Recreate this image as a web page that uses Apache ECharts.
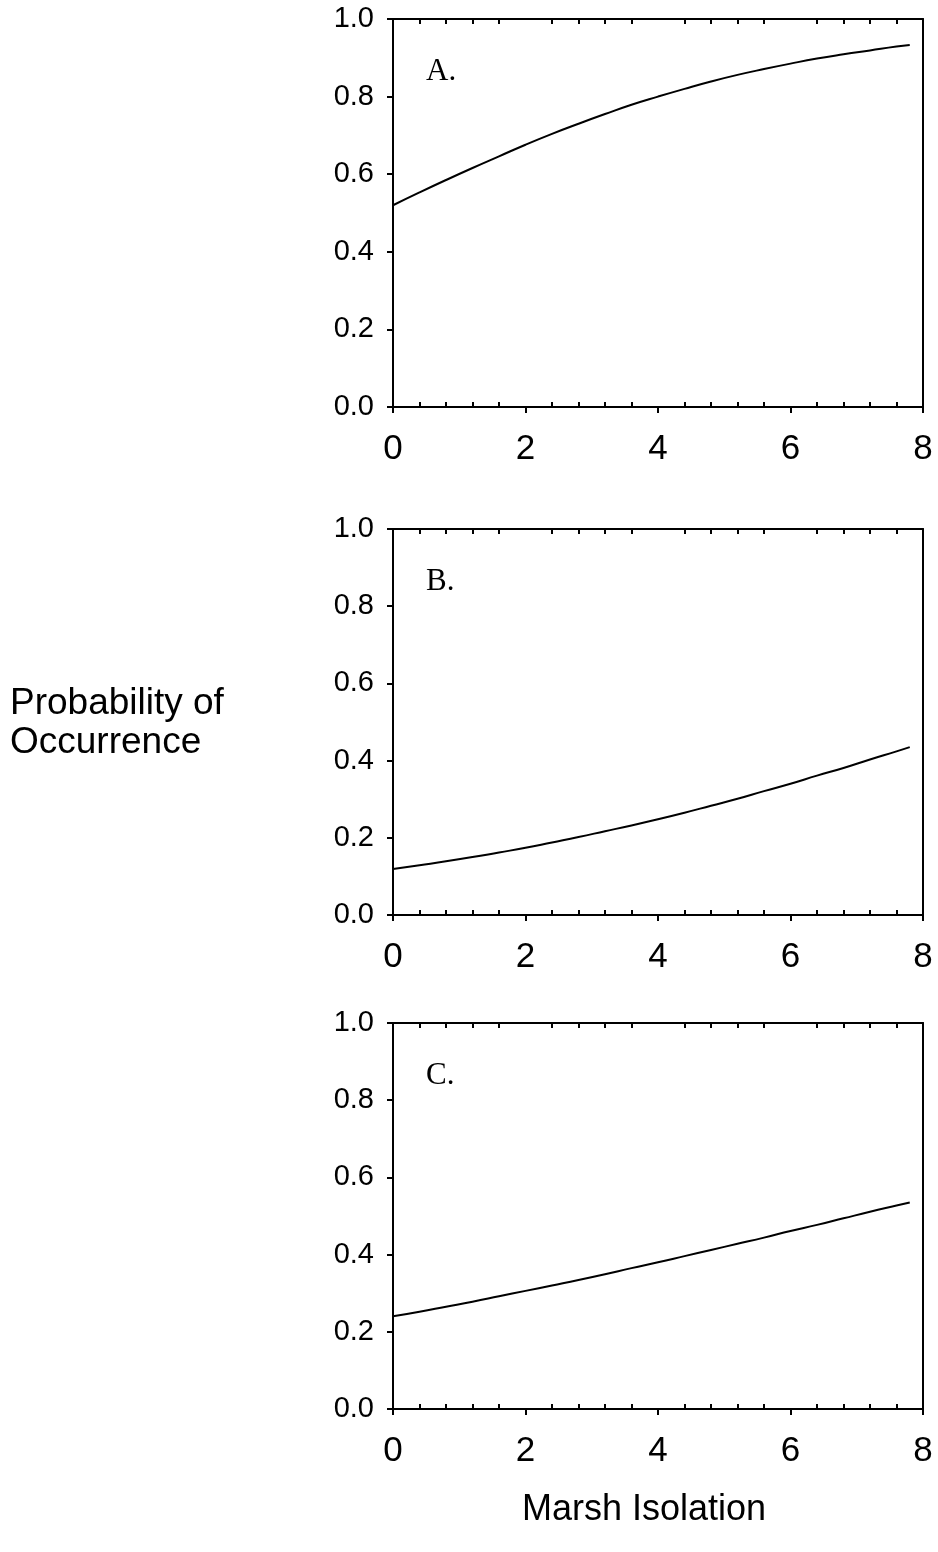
<!DOCTYPE html>
<html>
<head>
<meta charset="utf-8">
<script src="https://cdn.jsdelivr.net/npm/echarts@6/dist/echarts.min.js"></script>
<style>
html,body{margin:0;padding:0;background:#fff;}
#chart{width:938px;height:1552px;}
</style>
</head>
<body>
<div id="chart"></div>
<script>
// ---- data ----
var isolation = [0, 0.4, 0.8, 1.2, 1.6, 2.0, 2.4, 2.8, 3.2, 3.6, 4.0, 4.4, 4.8, 5.2, 5.6, 6.0, 6.4, 6.8, 7.2, 7.6, 7.8];
var probA = [0.520, 0.553, 0.585, 0.616, 0.646, 0.676, 0.704, 0.730, 0.755, 0.779, 0.800, 0.820, 0.839, 0.856, 0.871, 0.885, 0.898, 0.909, 0.919, 0.929, 0.933];
var probB = [0.119, 0.129, 0.139, 0.150, 0.162, 0.174, 0.188, 0.202, 0.217, 0.232, 0.248, 0.265, 0.283, 0.301, 0.321, 0.340, 0.361, 0.381, 0.403, 0.424, 0.435];
var probC = [0.240, 0.252, 0.265, 0.278, 0.292, 0.306, 0.320, 0.334, 0.349, 0.365, 0.380, 0.396, 0.412, 0.428, 0.444, 0.461, 0.477, 0.494, 0.511, 0.527, 0.535];
var panelLabels = ['A.', 'B.', 'C.'];
var minorTickValues = [0.4, 0.8, 1.2, 1.6, 2.4, 2.8, 3.2, 3.6, 4.4, 4.8, 5.2, 5.6, 6.4, 6.8, 7.2, 7.6];
var xTitle = 'Marsh Isolation';
var yTitle = 'Probability of\nOccurrence';

// ---- layout ----
var panels = [
  {top: 19, height: 388, data: probA},
  {top: 529, height: 386, data: probB},
  {top: 1023, height: 386, data: probC}
];
var gridLeft = 393, gridWidth = 530;
var sans = 'Liberation Sans, Arial, sans-serif';
var serif = 'Liberation Serif, Times New Roman, serif';

var grids = [], xAxes = [], yAxes = [], series = [], titles = [];
panels.forEach(function (p, i) {
  grids.push({left: gridLeft, width: gridWidth, top: p.top, height: p.height, containLabel: false});
  // main bottom axis: line, outward major ticks, labels
  xAxes.push({
    type: 'value', gridIndex: i, position: 'bottom', min: 0, max: 8, interval: 2,
    axisLine: {show: true, onZero: false, lineStyle: {color: '#000', width: 2}},
    axisTick: {show: true, inside: false, length: 6, lineStyle: {color: '#000', width: 2}},
    axisLabel: {show: true, color: '#000', fontFamily: sans, fontSize: 35, margin: 25},
    splitLine: {show: false}
  });
  // minor ticks inside on bottom
  xAxes.push({
    type: 'value', gridIndex: i, position: 'bottom', min: 0, max: 8,
    axisLine: {show: false, onZero: false},
    axisTick: {show: true, inside: true, length: 5, customValues: minorTickValues, lineStyle: {color: '#000', width: 2}},
    axisLabel: {show: false},
    splitLine: {show: false}
  });
  // top border with inside minor ticks
  xAxes.push({
    type: 'value', gridIndex: i, position: 'top', min: 0, max: 8,
    axisLine: {show: true, onZero: false, lineStyle: {color: '#000', width: 2}},
    axisTick: {show: true, inside: true, length: 5, customValues: minorTickValues, lineStyle: {color: '#000', width: 2}},
    axisLabel: {show: false},
    splitLine: {show: false}
  });
  yAxes.push({
    type: 'value', gridIndex: i, position: 'left', min: 0, max: 1, interval: 0.2,
    axisLine: {show: true, onZero: false, lineStyle: {color: '#000', width: 2}},
    axisTick: {show: true, inside: false, length: 6, lineStyle: {color: '#000', width: 2}},
    axisLabel: {show: true, color: '#000', fontFamily: sans, fontSize: 29, margin: 19,
      formatter: function (v) { return v.toFixed(1); }},
    splitLine: {show: false}
  });
  yAxes.push({
    type: 'value', gridIndex: i, position: 'right', min: 0, max: 1,
    axisLine: {show: true, onZero: false, lineStyle: {color: '#000', width: 2}},
    axisTick: {show: false}, axisLabel: {show: false}, splitLine: {show: false}
  });
  series.push({
    type: 'line', xAxisIndex: i * 3, yAxisIndex: i * 2,
    data: isolation.map(function (x, k) { return [x, p.data[k]]; }),
    showSymbol: false, smooth: true,
    lineStyle: {color: '#000', width: 2}, silent: true
  });
  titles.push({
    text: panelLabels[i], left: 426, top: p.top + 37, padding: 0,
    textStyle: {fontFamily: serif, fontSize: 31, fontWeight: 'normal', color: '#000'}
  });
});
titles.push({
  text: yTitle, left: 10, top: 684, padding: 0,
  textStyle: {fontFamily: sans, fontSize: 37, fontWeight: 'normal', color: '#000', lineHeight: 39}
});
titles.push({
  text: xTitle, left: 644, textAlign: 'center', top: 1492, padding: 0,
  textStyle: {fontFamily: sans, fontSize: 36, fontWeight: 'normal', color: '#000'}
});

var chart = echarts.init(document.getElementById('chart'), null, {renderer: 'canvas'});
chart.setOption({
  backgroundColor: '#fff',
  animation: false,
  title: titles,
  grid: grids,
  xAxis: xAxes,
  yAxis: yAxes,
  series: series
});
</script>
</body>
</html>
